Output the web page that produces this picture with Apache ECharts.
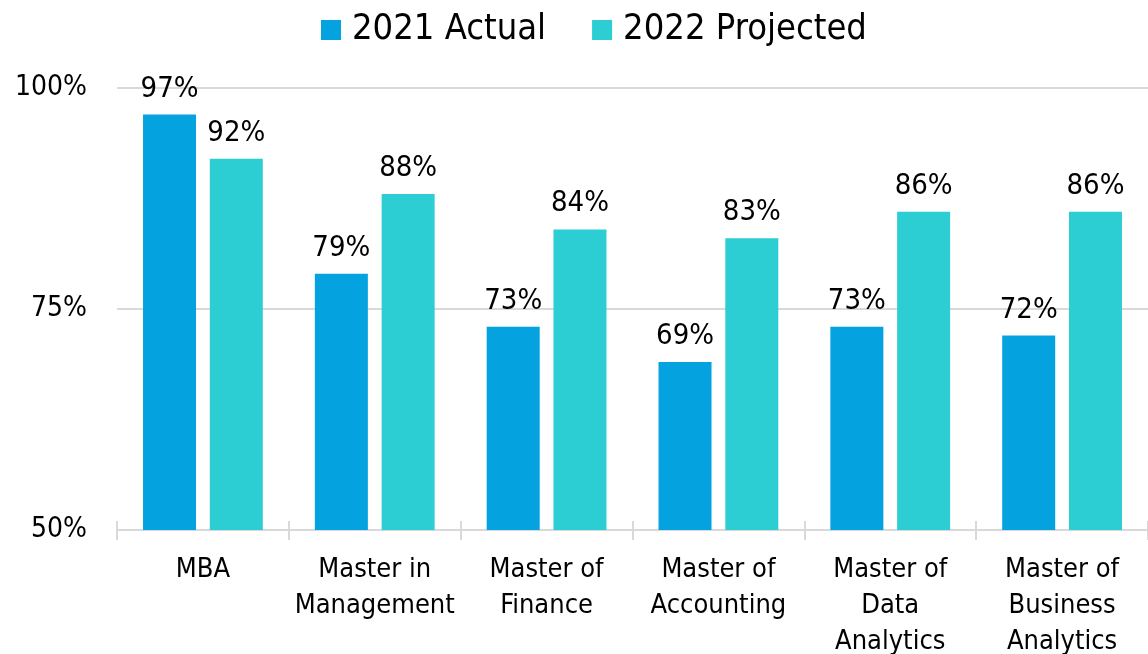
<!DOCTYPE html>
<html>
<head>
<meta charset="utf-8">
<script src="https://cdn.jsdelivr.net/npm/echarts@6/dist/echarts.min.js"></script>
<style>
  html, body { margin: 0; padding: 0; background: #fff; }
  #chart { width: 1148px; height: 654px; }
</style>
</head>
<body>
<div id="chart"></div>
<script>
// 数据
var categories = ['MBA', 'Master in\nManagement', 'Master of\nFinance', 'Master of\nAccounting',
    'Master of\nData\nAnalytics', 'Master of\nBusiness\nAnalytics'];
var actual2021 = [97, 79, 73, 69, 73, 72];
var projected2022 = [92, 88, 84, 83, 86, 86];
var yTicks = [50, 75, 100];

var font = '"DejaVu Sans Condensed", "DejaVu Sans", sans-serif';
var plotTop = 88, plotBottom = 124;
var plotHeight = 654 - plotTop - plotBottom;

var chart = echarts.init(document.getElementById('chart'));

var option = {
    animation: false,
    textStyle: { fontFamily: font },
    legend: {
        top: 7,
        left: 316,
        itemWidth: 20,
        itemHeight: 20,
        itemGap: 46,
        icon: 'rect',
        textStyle: { fontSize: 36, color: '#000', fontFamily: font, padding: [0, 0, 0, 6] },
        data: ['2021 Actual', '2022 Projected']
    },
    grid: {
        left: 117,
        right: 0,
        top: plotTop,
        bottom: plotBottom,
        outerBoundsMode: 'none'
    },
    xAxis: [{
        type: 'category',
        data: categories,
        axisLine: { lineStyle: { color: '#d9d9d9', width: 2 } },
        axisTick: { show: true, length: 10, lineStyle: { color: '#d9d9d9', width: 2 } },
        axisLabel: {
            color: '#000',
            fontSize: 27,
            lineHeight: 36,
            margin: 22,
            interval: 0
        }
    }, {
        // 上半截刻度线
        type: 'category',
        data: categories,
        position: 'top',
        offset: -plotHeight,
        axisLine: { show: false },
        axisTick: { show: true, length: 9, lineStyle: { color: '#d9d9d9', width: 2 } },
        axisLabel: { show: false }
    }],
    yAxis: {
        type: 'value',
        min: yTicks[0],
        max: yTicks[yTicks.length - 1],
        interval: 25,
        axisLine: { show: false },
        axisTick: { show: false },
        splitLine: { lineStyle: { color: '#d9d9d9', width: 2 } },
        axisLabel: {
            color: '#000',
            fontSize: 28,
            margin: 30,
            formatter: '{value}%'
        }
    },
    series: [
        {
            name: '2021 Actual',
            type: 'bar',
            data: actual2021,
            barWidth: 53,
            barGap: '26%',
            itemStyle: { color: '#04a3e0' },
            label: {
                show: true,
                position: 'top',
                distance: 11,
                color: '#000',
                fontSize: 29,
                formatter: '{c}%'
            }
        },
        {
            name: '2022 Projected',
            type: 'bar',
            data: projected2022,
            barWidth: 53,
            itemStyle: { color: '#2ccdd3' },
            label: {
                show: true,
                position: 'top',
                distance: 11,
                color: '#000',
                fontSize: 29,
                formatter: '{c}%'
            }
        }
    ]
};

chart.setOption(option);
</script>
</body>
</html>
